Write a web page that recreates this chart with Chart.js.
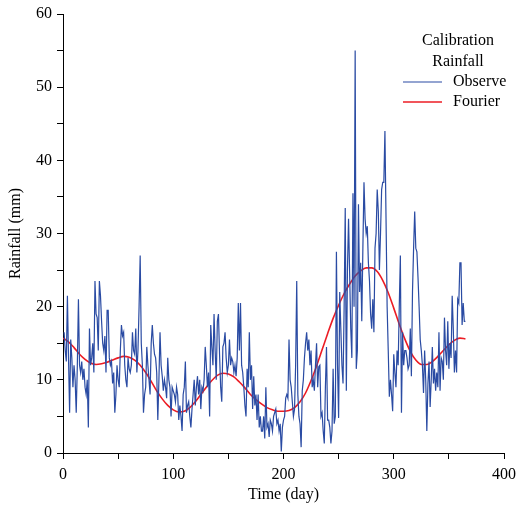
<!DOCTYPE html>
<html>
<head>
<meta charset="utf-8">
<script src="https://cdn.jsdelivr.net/npm/chart.js@4"></script>
<style>
  html, body { margin: 0; padding: 0; background: #fff; }
  #wrap { position: relative; width: 518px; height: 511px; }
</style>
</head>
<body>
<div id="wrap"><canvas id="rain"></canvas></div>
<script>
const observe = [
  16.5, 14, 12.5, 21.5, 13, 5.5, 15.5, 13, 9, 12,
  10, 5.5, 12, 21, 12, 11, 12.5, 10, 11.5, 9,
  8, 10, 3.5, 17, 12, 13, 15, 11, 23.5, 19,
  18.5, 14, 23.5, 21.5, 18, 15, 14, 16, 11, 19.5,
  19.5, 13, 12, 12.5, 9.5, 11, 5.5, 8, 12, 10,
  9, 14, 17.5, 16, 16.5, 12, 10, 9, 13, 11.5,
  11, 12, 16.5, 14, 13.5, 17, 11, 14, 20, 27,
  15, 12, 5.5, 8, 9, 14.5, 12, 10, 8, 15,
  17.5, 15, 13.5, 13, 11, 4.5, 10, 16.5, 12, 10.5,
  8.5, 10, 9, 7.5, 13, 10, 9, 5, 9, 8.5,
  8, 7, 9, 8, 4.5, 6.5, 5, 3, 8, 9,
  12.5, 5.5, 6.5, 7, 5, 3.5, 6, 8, 10, 6.5,
  9, 10.5, 8, 10, 6, 9, 8.5, 10, 14.5, 12,
  9, 11, 5, 17.5, 14.5, 12, 19, 14, 10, 18,
  19, 13.5, 9, 7, 14.5, 15, 16.5, 13, 11, 12,
  15.5, 12, 13, 12.5, 11, 12, 10.5, 13, 20.5, 14,
  20.5, 12, 11, 9, 6.5, 5, 11.5, 9, 16.5, 10,
  12, 6, 10.5, 6.5, 8, 4.5, 8, 3.5, 5, 3,
  3, 5, 2, 9, 3.5, 4, 2.2, 4.5, 4, 3,
  5, 5.5, 6, 4, 4.5, 3, 4, 0.2, 3.5, 4.5,
  5, 7.5, 8, 7.5, 15.5, 10, 9, 7, 5, 6,
  12, 23.5, 8, 5, 4, 0.8, 8.5, 10, 13, 15,
  16.5, 14, 15.5, 12, 14, 9, 10, 8.5, 12, 15,
  9, 11.8, 12, 5, 5.5, 3, 1.3, 9, 14.5, 4.5,
  4.5, 3.5, 1.3, 3, 11.5, 4, 5, 27.5, 12, 4.8,
  22, 17, 12, 9.5, 20, 33.5, 8.5, 25, 32, 24.5,
  17, 13, 35.5, 20, 55, 11.5, 14, 34, 22, 26,
  18, 28, 37, 32, 30, 31, 26, 23.5, 19, 17,
  21, 16.5, 28, 30, 36, 33, 25, 30, 36, 37,
  37, 44, 32, 20, 14, 7.7, 10, 8, 5.7, 13.5,
  11, 9, 14, 12, 20, 27, 5.5, 16.5, 12, 14,
  14, 13, 11.5, 12, 17, 10.5, 22, 28, 33, 28,
  27.5, 24, 20, 15.5, 14, 12, 8.2, 14, 10, 3,
  9.5, 12.5, 6.3, 10, 14.5, 9.5, 11.5, 8.5, 11, 9,
  16.5, 8.5, 13, 12.5, 10, 18.5, 14, 12, 18, 11.5,
  15, 13, 21.5, 17, 11, 14, 11, 21, 20.5, 26,
  26, 17.5, 20.5, 18, 18
];
const days = observe.map((v, i) => i + 1);

// fitted Fourier curve, sampled every 5 days
const fourierDays = [
  0, 5, 10, 15, 20, 25, 30, 35, 40, 45, 50, 55, 60, 65, 70, 75, 80, 85, 90, 95,
  100, 105, 110, 115, 120, 125, 130, 135, 140, 145, 150, 155, 160, 165, 170, 175, 180, 185, 190, 195,
  200, 205, 210, 215, 220, 225, 230, 235, 240, 245, 250, 255, 260, 265, 270, 275, 280, 285, 290, 295,
  300, 305, 310, 315, 320, 325, 330, 335, 340, 345, 350, 355, 360, 365
];
const fourier = [
  15.7, 15.2, 14.4, 13.5, 12.8, 12.3, 12.1, 12.2, 12.4, 12.7, 13.0, 13.2, 13.1, 12.7, 12.0, 11.0, 9.8, 8.5, 7.4, 6.5,
  5.9, 5.6, 5.7, 6.2, 7.0, 8.0, 9.0, 9.9, 10.6, 10.9, 10.8, 10.4, 9.7, 8.9, 8.0, 7.3, 6.7, 6.2, 5.9, 5.7,
  5.7, 5.8, 6.2, 7.0, 8.2, 9.9, 11.9, 14.1, 16.3, 18.4, 20.2, 21.8, 23.1, 24.2, 24.9, 25.3, 25.3, 24.8, 23.6, 21.9,
  19.8, 17.6, 15.6, 13.9, 12.7, 12.1, 12.1, 12.5, 13.2, 14.0, 14.8, 15.4, 15.7, 15.6
];

const legendTitle = ['Calibration', 'Rainfall'];
const serif = "'Liberation Serif', 'Times New Roman', serif";

// legend drawn in the top right corner of the plot
const cornerLegend = {
    id: 'cornerLegend',
    afterDraw(chart) {
        const ctx = chart.ctx;
        ctx.save();
        ctx.font = '16px ' + serif;
        ctx.fillStyle = '#000';
        ctx.textBaseline = 'middle';
        ctx.textAlign = 'center';
        legendTitle.forEach((t, i) => ctx.fillText(t, 458, 41 + i * 21));
        ctx.textAlign = 'left';
        chart.data.datasets.forEach((ds, i) => {
            const y = 82 + i * 20;
            ctx.strokeStyle = ds.borderColor;
            ctx.lineWidth = ds.borderWidth;
            ctx.beginPath();
            ctx.moveTo(403, y);
            ctx.lineTo(442, y);
            ctx.stroke();
            ctx.fillText(ds.label, 453, y);
        });
        ctx.restore();
    }
};

new Chart(document.getElementById('rain'), {
    type: 'line',
    data: {
        datasets: [
            {
                label: 'Observe',
                data: days.map((d, i) => ({ x: d, y: observe[i] })),
                borderColor: '#2a4ba3',
                borderWidth: 1.2,
                pointRadius: 0,
                tension: 0,
            },
            {
                label: 'Fourier',
                data: fourierDays.map((d, i) => ({ x: d, y: fourier[i] })),
                borderColor: '#ec1c24',
                borderWidth: 1.6,
                pointRadius: 0,
                cubicInterpolationMode: 'monotone',
            },
        ],
    },
    options: {
        responsive: true,
        maintainAspectRatio: false,
        animation: false,
        layout: { padding: { top: 14, right: 14, left: 0, bottom: 0 } },
        plugins: {
            legend: { display: false },
            tooltip: { enabled: false },
        },
        scales: {
            x: {
                type: 'linear',
                min: 0,
                max: 400,
                afterFit: (s) => {
                    s.height = 58;
                    s.paddingLeft = 0;
                    s.paddingRight = 0;
                },
                ticks: {
                    stepSize: 50,
                    autoSkip: false,
                    maxRotation: 0,
                    color: '#000',
                    font: { family: serif, size: 16 },
                    padding: 6,
                    callback: (v) => (v % 100 === 0 ? v : ''),
                },
                grid: { drawOnChartArea: false, tickLength: 6, color: '#000' },
                border: { color: '#000', width: 1 },
                title: {
                    display: true,
                    text: 'Time (day)',
                    color: '#000',
                    font: { family: serif, size: 16 },
                    padding: { top: 0, bottom: 7 },
                },
            },
            y: {
                min: 0,
                max: 60,
                afterFit: (s) => {
                    s.width = 63;
                    s.paddingTop = 0;
                    s.paddingBottom = 0;
                },
                ticks: {
                    stepSize: 5,
                    autoSkip: false,
                    color: '#000',
                    font: { family: serif, size: 16 },
                    padding: 5,
                    callback: (v) => (v % 10 === 0 ? v : ''),
                },
                grid: { drawOnChartArea: false, tickLength: 6, color: '#000' },
                border: { color: '#000', width: 1 },
                title: {
                    display: true,
                    text: 'Rainfall (mm)',
                    color: '#000',
                    font: { family: serif, size: 16 },
                    padding: { top: 6, bottom: 0 },
                },
            },
        },
    },
    plugins: [cornerLegend],
});
</script>
</body>
</html>
